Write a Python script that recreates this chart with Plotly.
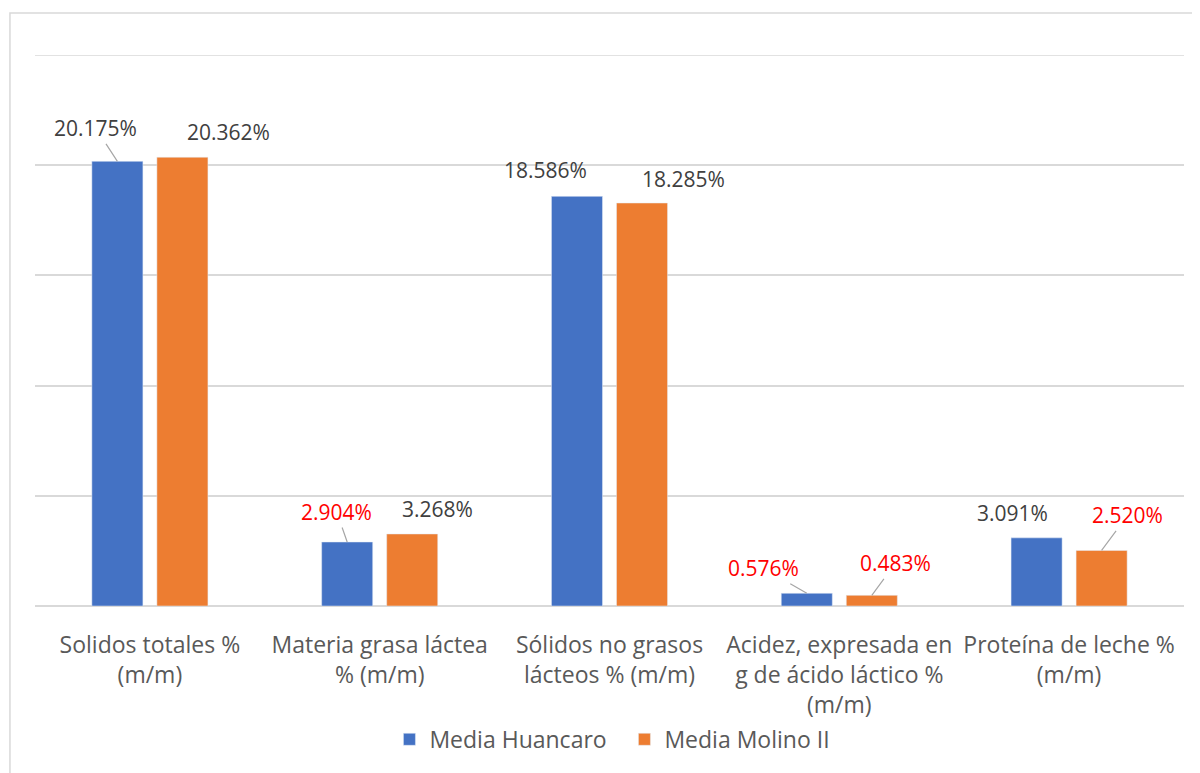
import plotly.graph_objects as go

categories = [
    "Solidos totales %<br>(m/m)",
    "Materia grasa láctea<br>% (m/m)",
    "Sólidos no grasos<br>lácteos % (m/m)",
    "Acidez, expresada en<br>g de ácido láctico %<br>(m/m)",
    "Proteína de leche %<br>(m/m)",
]
huancaro = [20.175, 2.904, 18.586, 0.576, 3.091]
molino = [20.362, 3.268, 18.285, 0.483, 2.520]
y_max = 25

# label styling: red flags and label offsets (pixels) relative to bar top
huancaro_red = [False, True, False, True, False]
molino_red = [False, False, False, True, True]
huancaro_off = [(-21.5, -33, True), (-10.5, -30, True), (-32, -26, False), (-43.5, -25, True), (-24, -25, False)]
molino_off = [(46.5, -25, False), (25.5, -25, False), (41, -24, False), (23.5, -32, True), (26, -35, True)]

FONT = "Open Sans"
GREY = "#595959"
BLUE = "#4472C4"
ORANGE = "#ED7D31"
GRID = "#D9D9D9"

fig = go.Figure()
fig.add_trace(go.Bar(name="Media Huancaro", x=categories, y=huancaro, marker=dict(color=BLUE)))
fig.add_trace(go.Bar(name="Media Molino II", x=categories, y=molino, marker=dict(color=ORANGE)))

annotations = []
for vals, reds, offs, shift in [(huancaro, huancaro_red, huancaro_off, -32.5), (molino, molino_red, molino_off, 32.5)]:
    for cat, v, red, (dx, dy, arrow) in zip(categories, vals, reds, offs):
        col = "#FF0000" if red else "#404040"
        if arrow:
            annotations.append(dict(
                x=cat, y=v, xshift=shift, text=f"{v:.3f}%", showarrow=True,
                ax=dx, ay=dy, arrowhead=0, arrowwidth=1.2, arrowcolor="#A6A6A6",
                font=dict(family=FONT, size=21, color=col), standoff=0,
            ))
        else:
            annotations.append(dict(
                x=cat, y=v, xshift=shift + dx, yshift=-dy, text=f"{v:.3f}%", showarrow=False,
                xanchor="center", yanchor="middle",
                font=dict(family=FONT, size=21, color=col),
            ))

fig.update_layout(
    width=1192, height=765,
    margin=dict(l=27, r=16, t=47, b=165),
    paper_bgcolor="white", plot_bgcolor="white",
    barmode="group", bargap=0.434, bargroupgap=0.215,
    font=dict(family=FONT, size=23, color=GREY),
    xaxis=dict(showgrid=False, ticks="", tickfont=dict(size=23, color=GREY), showline=False,
               ticklabelstandoff=23),
    yaxis=dict(range=[0, y_max], tickvals=[0, 5, 10, 15, 20, 25], showticklabels=False,
               gridcolor=GRID, gridwidth=1.5,
               zeroline=True, zerolinecolor=GRID, zerolinewidth=1.5, showline=False),
    legend=dict(orientation="h", x=0.513, xanchor="center", y=-0.242, yanchor="middle",
                font=dict(size=23, color=GREY), itemwidth=30, traceorder="normal",
                entrywidth=190, entrywidthmode="pixels"),
    annotations=annotations,
    shapes=[
        dict(type="rect", xref="paper", yref="paper", x0=-0.0218, x1=1.05, y0=-0.35, y1=1.076,
             line=dict(color=GRID, width=1.5), fillcolor="rgba(0,0,0,0)", layer="below"),
        dict(type="line", xref="paper", yref="y", x0=0, x1=1, y0=y_max, y1=y_max,
             line=dict(color=GRID, width=1.5), layer="below"),
    ],
)

fig.write_html("out.html")
